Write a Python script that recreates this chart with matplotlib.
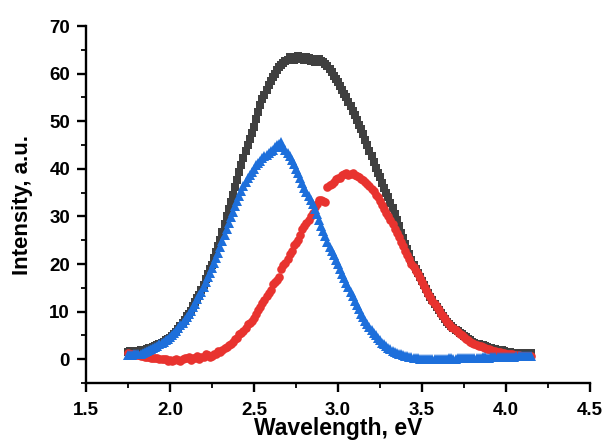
import numpy as np
import matplotlib
matplotlib.use("Agg")
import matplotlib.pyplot as plt
from matplotlib.ticker import MultipleLocator

plt.rcParams['font.family'] = ['Liberation Sans', 'DejaVu Sans']

# photon energy grid, eV (1.75 ... 4.15, step 0.0125)
energy = np.round(np.arange(1.75, 4.1501, 0.0125), 4)

# each row covers 0.1 eV
black_total = [
    1.6, 1.7, 1.7, 1.8, 1.8, 1.8, 1.9, 1.9,
    2.0, 2.1, 2.3, 2.4, 2.6, 2.8, 3.0, 3.2,
    3.5, 3.7, 4.0, 4.2, 4.4, 4.9, 5.4, 5.8,
    6.3, 6.9, 7.6, 8.3, 9.0, 9.5, 10.1, 11.1,
    12.0, 12.8, 13.5, 14.6, 15.6, 16.8, 18.0, 18.9,
    19.8, 21.2, 22.5, 23.8, 25.1, 26.8, 28.4, 30.0,
    31.6, 33.1, 34.6, 36.1, 37.6, 39.3, 40.9, 42.3,
    43.7, 45.0, 46.3, 47.6, 48.8, 50.4, 52.0, 53.4,
    54.6, 55.6, 56.6, 57.6, 58.4, 59.2, 60.0, 60.8,
    61.3, 61.8, 62.2, 62.6, 62.8, 63.4, 63.2, 62.8,
    63.0, 63.6, 63.5, 63.0, 62.8, 63.4, 63.3, 62.7,
    63.0, 62.5, 62.6, 63.1, 62.7, 62.4, 62.0, 61.6,
    61.0, 60.4, 59.6, 58.9, 58.2, 57.4, 56.6, 55.8,
    55.0, 54.1, 53.2, 52.2, 51.2, 50.3, 49.3, 48.3,
    47.3, 46.1, 45.0, 43.8, 42.6, 41.4, 40.2, 39.2,
    38.2, 37.1, 36.0, 35.0, 34.0, 32.9, 31.8, 30.5,
    29.2, 27.9, 26.6, 25.4, 24.2, 23.1, 22.0, 20.9,
    19.8, 19.0, 18.1, 17.2, 16.4, 15.5, 14.7, 13.9,
    13.0, 12.4, 11.7, 11.0, 10.3, 9.7, 9.1, 8.5,
    7.9, 7.4, 7.0, 6.6, 6.2, 5.9, 5.6, 5.2,
    4.9, 4.6, 4.3, 4.0, 3.7, 3.5, 3.3, 3.1,
    3.0, 2.9, 2.8, 2.6, 2.4, 2.3, 2.2, 2.1,
    2.0, 1.9, 1.9, 1.7, 1.6, 1.5, 1.5, 1.4,
    1.4, 1.4, 1.4, 1.3, 1.3, 1.2, 1.2, 1.2,
    1.3,
]

red_peak = [
    1.3, 1.2, 1.1, 1.0, 0.9, 0.8, 0.7, 0.6,
    0.5, 0.5, 0.4, 0.3, 0.3, 0.2, 0.2, 0.1,
    0.1, 0.0, 0.0, -0.3, -0.2, -0.4, -0.1, 0.1,
    -0.2, -0.3, 0.0, 0.3, 0.2, 0.4, -0.1, 0.2,
    0.3, 0.6, 0.1, 0.4, 0.5, 1.1, 0.8, 0.4,
    0.6, 1.0, 1.2, 1.8, 1.6, 2.0, 2.4, 2.6,
    3.0, 3.2, 3.6, 4.2, 4.4, 5.2, 5.6, 5.9,
    6.5, 7.3, 7.6, 8.1, 8.6, 9.5, 10.3, 10.9,
    11.8, 12.4, 13.2, 14.0, 14.6, 15.8, 16.3, 16.6,
    17.2, 18.9, 19.8, 20.3, 21.0, 22.1, 22.8, 23.9,
    24.5, 25.0, 26.1, 27.3, 28.0, 28.6, 29.2, 30.1,
    30.8, 31.9, 32.6, 33.4, 33.5, 33.2, 33.0, 36.2,
    36.6, 36.9, 37.3, 37.8, 38.0, 38.1, 38.6, 39.0,
    39.2, 38.8, 39.0, 39.1, 38.7, 38.5, 38.2, 37.9,
    37.6, 37.2, 36.8, 36.4, 35.8, 35.3, 34.6, 34.0,
    33.2, 32.4, 31.6, 30.8, 30.0, 29.2, 28.4, 27.4,
    26.5, 25.6, 24.6, 23.7, 22.8, 21.9, 21.0, 20.1,
    19.3, 18.5, 17.8, 17.0, 16.2, 15.4, 14.6, 13.8,
    13.0, 12.3, 11.6, 10.9, 10.3, 9.6, 9.0, 8.4,
    7.8, 7.3, 6.8, 6.5, 6.1, 5.7, 5.4, 5.0,
    4.7, 4.3, 4.0, 3.7, 3.5, 3.2, 3.0, 2.8,
    2.7, 2.5, 2.4, 2.2, 2.1, 1.9, 1.8, 1.7,
    1.6, 1.5, 1.4, 1.3, 1.2, 1.1, 1.0, 1.0,
    0.9, 0.8, 0.8, 0.7, 0.7, 0.6, 0.6, 0.6,
    0.6,
]

blue_peak = [
    0.8, 0.9, 0.9, 1.0, 1.0, 1.1, 1.2, 1.3,
    1.5, 1.7, 1.9, 2.1, 2.3, 2.5, 2.8, 3.1,
    3.4, 3.7, 4.0, 4.3, 4.6, 5.0, 5.5, 6.0,
    6.5, 7.1, 7.6, 8.2, 8.8, 9.5, 10.2, 10.9,
    11.7, 12.6, 13.4, 14.2, 15.1, 16.2, 17.2, 18.1,
    19.2, 20.3, 21.3, 22.3, 23.5, 24.8, 26.0, 27.4,
    28.6, 29.8, 31.0, 32.2, 33.2, 34.2, 35.3, 36.4,
    37.2, 38.1, 38.7, 39.4, 40.0, 40.7, 41.2, 41.6,
    42.2, 42.7, 43.0, 43.3, 43.8, 44.0, 44.6, 45.0,
    45.3, 45.6, 44.5, 44.0, 43.3, 42.6, 41.8, 41.0,
    40.0, 39.1, 38.0, 37.0, 36.0, 35.2, 34.3, 33.4,
    32.6, 31.6, 30.5, 29.3, 28.0, 27.0, 25.8, 24.7,
    23.6, 22.8, 21.8, 20.9, 20.0, 19.0, 18.0, 17.0,
    16.0, 15.1, 14.1, 13.2, 12.3, 11.4, 10.5, 9.6,
    8.8, 8.1, 7.4, 6.7, 6.1, 5.5, 5.0, 4.5,
    4.0, 3.5, 3.1, 2.7, 2.4, 2.1, 1.8, 1.6,
    1.4, 1.2, 1.0, 0.8, 0.7, 0.6, 0.5, 0.4,
    0.3, 0.3, 0.2, 0.1, 0.1, 0.1, 0.1, 0.0,
    0.0, 0.1, 0.1, 0.0, 0.0, 0.1, 0.1, 0.1,
    0.1, 0.2, 0.2, 0.1, 0.1, 0.2, 0.2, 0.2,
    0.2, 0.3, 0.3, 0.2, 0.2, 0.3, 0.3, 0.3,
    0.3, 0.4, 0.4, 0.3, 0.3, 0.4, 0.4, 0.4,
    0.4, 0.5, 0.5, 0.4, 0.4, 0.5, 0.5, 0.5,
    0.5, 0.6, 0.6, 0.6, 0.6, 0.6, 0.6, 0.7,
    0.7,
]

fig = plt.figure(figsize=(6.03, 4.4), dpi=100)
ax = fig.add_axes([0.1426, 0.1295, 0.8358, 0.8114])

ax.plot(energy, black_total, ls='none', marker='s', ms=5.1, mew=0, color='#404040')
ax.plot(energy, red_peak, ls='none', marker='o', ms=6.2, mew=0, color='#e8332f')
ax.plot(energy, blue_peak, ls='none', marker='^', ms=6.8, mew=0, color='#1d6fdb')

ax.set_xlim(1.5, 4.5)
ax.set_ylim(-5, 70)
ax.xaxis.set_minor_locator(MultipleLocator(0.25))
ax.yaxis.set_minor_locator(MultipleLocator(5))
ax.set_xticks(np.arange(1.5, 4.51, 0.5))
ax.set_xticklabels(['1.5', '2.0', '2.5', '3.0', '3.5', '4.0', '4.5'])
ax.set_yticks(np.arange(0, 71, 10))

for s in ['top', 'right']:
    ax.spines[s].set_visible(False)
for s in ['left', 'bottom']:
    ax.spines[s].set_linewidth(1.7)

ax.tick_params(which='major', direction='out', length=6.5, width=1.7)
ax.tick_params(axis='x', which='major', pad=7)
ax.tick_params(axis='y', which='major', pad=5)
ax.tick_params(which='minor', direction='out', length=3.5, width=1.3)
for lab in ax.get_xticklabels() + ax.get_yticklabels():
    lab.set_fontsize(13.5)
    lab.set_fontweight('bold')

ax.set_xlabel('Wavelength, eV', fontsize=16.5, fontweight='bold', labelpad=-1)
ax.set_ylabel('Intensity, a.u.', fontsize=16, fontweight='bold', labelpad=12)

fig.savefig('out.png', dpi=100)
